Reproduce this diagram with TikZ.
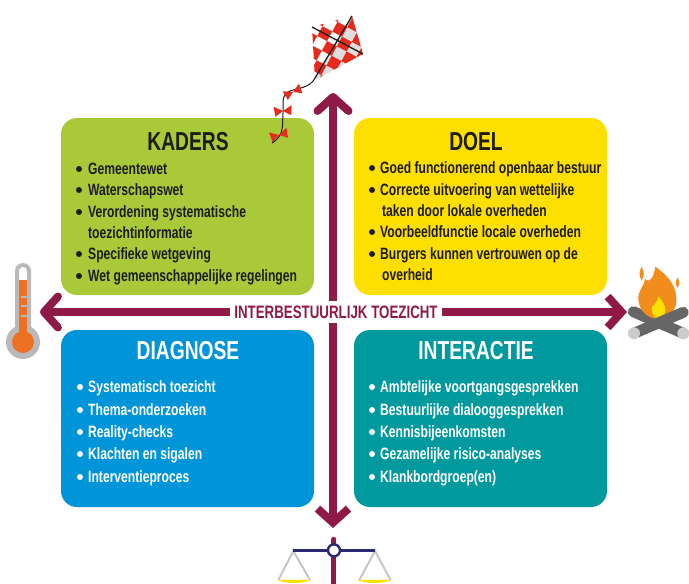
\documentclass[tikz,border=0pt]{standalone}
\usepackage{fontspec}
\setmainfont[FakeStretch=0.74]{Liberation Sans}
\usetikzlibrary{arrows.meta}
\definecolor{cgreen}{HTML}{A9C938}
\definecolor{cyellow}{HTML}{FFDF00}
\definecolor{cblue}{HTML}{0095D8}
\definecolor{cteal}{HTML}{009A9E}
\definecolor{cmaroon}{HTML}{8F1A47}
\definecolor{cink}{HTML}{1D1D1B}
\definecolor{cred}{HTML}{E62B1E}
\definecolor{corange}{HTML}{F28C1C}
\definecolor{cthermo}{HTML}{EE7023}
\definecolor{cnavy}{HTML}{2A2A72}
\tikzset{
  panel/.style={rounded corners=16pt,minimum width=253pt,minimum height=177pt,inner sep=0pt},
  paneltitle/.style={font=\fontsize{26}{26}\selectfont\bfseries,text=cink,inner sep=0pt},
  item/.style={anchor=base west,yshift=-5.5pt,inner sep=0pt,font=\fontsize{16.4}{16.4}\selectfont\bfseries,text=cink},
  dot/.style={circle,fill=cink,inner sep=0pt,minimum size=6pt},
  dotw/.style={circle,fill=white,inner sep=0pt,minimum size=6pt},
  bigarrow/.style={draw=cmaroon,line width=8pt,{Straight Barb[length=14pt,width=31pt,line width=8pt,round=false]}-{Straight Barb[length=14pt,width=31pt,line width=8pt]}},
}
\begin{document}
\begin{tikzpicture}[x=1pt,y=-1pt]
\useasboundingbox (0,0) rectangle (689,584);
\fill[white] (0,0) rectangle (689,584);
% panels
\node[panel,fill=cgreen] (kaders) at (187.5,206.5) {};
\node[panel,fill=cyellow] (doel) at (480.5,206.5) {};
\node[panel,fill=cblue] (diagnose) at (187.5,418.5) {};
\node[panel,fill=cteal] (interactie) at (480.5,418.5) {};
% arrows
\coordinate (atop) at (333,93);
\coordinate (abot) at (333,528);
\coordinate (aleft) at (40,312);
\coordinate (aright) at (627,312);
\draw[bigarrow] (atop) -- (abot);
\draw[bigarrow] (aleft) -- (aright);
\node[fill=white,inner sep=0pt,minimum width=212pt,minimum height=22pt,font=\fontsize{18}{18}\selectfont\bfseries,text=cmaroon] (label) at (336,312) {INTERBESTUURLIJK TOEZICHT};
% titles
\node[paneltitle] (t1) at (188,142) {KADERS};
\node[paneltitle] (t2) at (476,142) {DOEL};
\node[paneltitle,text=white] (t3) at (188,351) {DIAGNOSE};
\node[paneltitle,text=white] (t4) at (476,351) {INTERACTIE};
% kaders
\foreach \n/\y/\t in {a/169/Gemeentewet,b/190/Waterschapswet,c/212/Verordening systematische,e/254/Specifieke wetgeving,f/276/Wet gemeenschappelijke regelingen}{
  \node[dot] (kd\n) at (79,\y) {};
  \node[item] (k\n) at (88,\y) {\t};
}
\node[item] (kd) at (88,233) {toezichtinformatie};
% doel
\foreach \n/\y/\t in {a/168/Goed functionerend openbaar bestuur,b/190/Correcte uitvoering van wettelijke,d/232/Voorbeeldfunctie locale overheden,e/254/Burgers kunnen vertrouwen op de}{
  \node[dot] (dd\n) at (372,\y) {};
  \node[item] (d\n) at (380,\y) {\t};
}
\node[item] (dc) at (382,211) {taken door lokale overheden};
\node[item] (df) at (382,275) {overheid};
% diagnose
\foreach \n/\y/\t in {a/387/Systematisch toezicht,b/410/Thema-onderzoeken,c/432/Reality-checks,d/454/Klachten en sigalen,e/477/Interventieproces}{
  \node[dotw] (gd\n) at (80,\y) {};
  \node[item,text=white] (g\n) at (88,\y) {\t};
}
% interactie
\foreach \n/\y/\t in {a/387/Ambtelijke voortgangsgesprekken,b/410/Bestuurlijke dialooggesprekken,c/432/Kennisbijeenkomsten,d/454/Gezamelijke risico-analyses,e/477/Klankbordgroep(en)}{
  \node[dotw] (id\n) at (372,\y) {};
  \node[item,text=white] (i\n) at (380,\y) {\t};
}
% kite
\begin{scope}
\clip (312,27) -- (352,16) -- (363,54) -- (315,80) -- cycle;
\fill[white] (300,10) rectangle (370,90);
\fill[black!13] (352,16) -- (363,54) -- (315,80) -- cycle;
\begin{scope}[shift={(352,16)},x={(9.8pt,-5.2pt)},y={(-5.2pt,-9.6pt)}]
\foreach \i in {-8,...,4}{\foreach \j in {-3,...,8}{
  \pgfmathtruncatemacro{\kitepar}{mod(\i+\j+20,2)}
  \ifnum\kitepar=0
    \fill[cred] (\i+0.1,\j+0.1) -- ++(1,0) -- ++(0,1) -- ++(-1,0) -- cycle;
  \fi
}}
\end{scope}
\end{scope}
\draw[cink,line width=1.3pt] (312,27) -- (363,54);
\draw[cink,line width=1.3pt] (352,16) -- (315,78);
\draw[cink,line width=1pt] (315,78) .. controls (310,88) and (298,88) .. (290,91) .. controls (280,95) and (284,105) .. (283,113) .. controls (282,125) and (285,135) .. (272,143);
\foreach \bx/\by/\ang in {293/92/25,283/111/5,279/135/15}{
  \fill[cred,rotate around={\ang:(\bx,\by)}] (\bx,\by) -- (\bx-9,\by-5) -- (\bx-8,\by+5) -- cycle;
  \fill[cred,rotate around={\ang:(\bx,\by)}] (\bx,\by) -- (\bx+9,\by-5) -- (\bx+8,\by+5) -- cycle;
}
% thermometer
\fill[gray!55] (23,342) circle (17);
\draw[gray!55,line width=4pt,fill=white,rounded corners=6pt] (17,340) -- (17,265) -- (29,265) -- (29,340);
\fill[cthermo] (19,280) rectangle (27,340);
\fill[cthermo] (23,342) circle (11);
\foreach \y in {297,306,316}{\draw[gray!55,line width=1.5pt] (21,\y) -- (27,\y);}
% fire
\begin{scope}[shift={(590,255)},x=0.3333pt,y=-0.3333pt]
\draw[black!60,line width=11pt,line cap=round] (130,170) -- (280,235);
\fill[corange] (205,192) .. controls (170,190) and (145,165) .. (145,130) .. controls (145,105) and (162,95) .. (165,72) .. controls (180,85) and (190,70) .. (196,35) .. controls (225,55) and (255,85) .. (258,120) .. controls (266,160) and (240,190) .. (205,192) -- cycle;
\fill[cyellow] (205,190) .. controls (190,190) and (183,170) .. (186,155) .. controls (195,148) and (203,138) .. (205,124) .. controls (215,135) and (228,152) .. (226,168) .. controls (224,182) and (215,190) .. (205,190) -- cycle;
\fill[corange] (155,35) .. controls (162,50) and (165,60) .. (155,76) .. controls (145,60) and (148,50) .. (155,35) -- cycle;
\fill[corange] (263,68) .. controls (270,80) and (270,88) .. (263,98) .. controls (255,88) and (256,78) .. (263,68) -- cycle;
\draw[black!60,line width=11pt,line cap=round] (132,235) -- (280,172);
\fill[gray!40] (132,235) circle (18);
\fill[gray!40] (280,235) circle (18);
\end{scope}
% scales
\begin{scope}[shift={(260,490)},x=0.3333pt,y=-0.3333pt]
\draw[gray!45,line width=2pt] (55,270) -- (100,183) -- (150,270);
\draw[gray!45,line width=2pt] (298,270) -- (345,183) -- (392,270);
\fill[cyellow] (52,270) .. controls (80,282) and (125,282) .. (152,270) -- cycle;
\fill[cyellow] (292,270) .. controls (320,282) and (365,282) .. (394,270) -- cycle;
\draw[cmaroon,line width=5pt,line cap=round] (222,148) -- (222,284);
\fill[gray!60] (205,284) arc (180:0:17) -- cycle;
\draw[cnavy,line width=2.4pt] (98,181) -- (345,181);
\draw[cnavy,line width=2.4pt,fill=white] (222,181) circle (18);
\end{scope}
\end{tikzpicture}
\end{document}
